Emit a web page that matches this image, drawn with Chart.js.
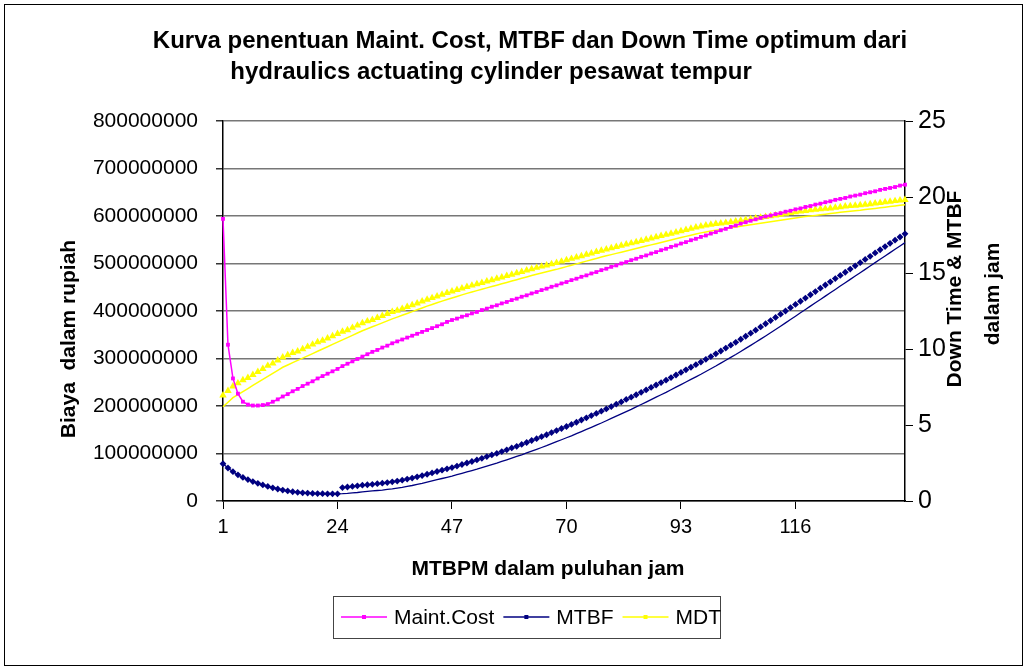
<!DOCTYPE html>
<html>
<head>
<meta charset="utf-8">
<script src="https://cdn.jsdelivr.net/npm/chart.js@4.4.1/dist/chart.umd.min.js"></script>
<style>
  html, body { margin: 0; padding: 0; background: #fff; }
</style>
</head>
<body>
<canvas id="chart" width="1030" height="671"></canvas>
<script>
const FONT = '"Liberation Sans", Arial, sans-serif';

// kategori: MTBPM (puluhan jam) 1..138
const mtbpm = Array.from({ length: 138 }, (_, i) => i + 1);
const xTickLabels = [1, 24, 47, 70, 93, 116];

// Maint. Cost, juta rupiah
const maintCost = [
  594, 329, 258, 226, 209, 203, 201, 201, 202, 204,
  209, 214, 220, 225, 231, 236, 242, 247, 252, 258,
  263, 268, 273, 278, 284, 289, 294, 299, 304, 309,
  314, 318, 323, 327, 332, 336, 340, 344, 348, 352,
  356, 360, 364, 368, 372, 377, 381, 384, 388, 391,
  395, 398, 402, 405, 409, 412, 416, 419, 423, 426,
  430, 433, 437, 440, 444, 447, 451, 454, 458, 461,
  465, 468, 472, 475, 479, 482, 486, 489, 493, 496,
  500, 503, 507, 510, 514, 517, 521, 524, 528, 531,
  535, 538, 542, 545, 549, 552, 556, 559, 563, 566,
  570, 573, 577, 580, 584, 587, 590, 593, 596, 599,
  601, 604, 606, 609, 611, 614, 616, 619, 621, 624,
  626, 629, 631, 634, 636, 638, 641, 643, 645, 648,
  650, 652, 655, 657, 659, 661, 664, 666
];

// MTBF (jam) - titik penanda
const mtbfMarkers = [
  2.45, 2.17, 1.93, 1.72, 1.55, 1.41, 1.28, 1.16, 1.06, 0.96,
  0.87, 0.79, 0.72, 0.66, 0.61, 0.57, 0.54, 0.52, 0.5, 0.49,
  0.48, 0.47, 0.47, 0.47, 0.88, 0.92, 0.96, 1.0, 1.04, 1.07,
  1.1, 1.14, 1.17, 1.21, 1.26, 1.31, 1.37, 1.44, 1.51, 1.59,
  1.67, 1.76, 1.85, 1.94, 2.03, 2.12, 2.2, 2.3, 2.4, 2.5,
  2.6, 2.7, 2.81, 2.92, 3.03, 3.13, 3.25, 3.37, 3.49, 3.6,
  3.72, 3.85, 3.98, 4.1, 4.23, 4.36, 4.5, 4.63, 4.77, 4.9,
  5.04, 5.18, 5.33, 5.47, 5.62, 5.76, 5.91, 6.06, 6.21, 6.37,
  6.52, 6.68, 6.83, 6.99, 7.15, 7.31, 7.47, 7.63, 7.79, 7.95,
  8.12, 8.29, 8.46, 8.63, 8.8, 8.97, 9.14, 9.32, 9.5, 9.68,
  9.87, 10.06, 10.25, 10.44, 10.64, 10.84, 11.04, 11.24, 11.45, 11.66,
  11.87, 12.08, 12.29, 12.5, 12.72, 12.93, 13.14, 13.35, 13.57, 13.78,
  14.0, 14.21, 14.42, 14.63, 14.84, 15.05, 15.26, 15.47, 15.68, 15.89,
  16.1, 16.32, 16.53, 16.74, 16.95, 17.16, 17.37, 17.58
];

// MTBF (jam) - garis
const mtbfLine = [
  2.45, 2.17, 1.93, 1.72, 1.55, 1.41, 1.28, 1.16, 1.06, 0.96,
  0.87, 0.79, 0.72, 0.66, 0.61, 0.57, 0.54, 0.52, 0.5, 0.49,
  0.48, 0.47, 0.47, 0.47, 0.48, 0.5, 0.53, 0.56, 0.6, 0.63,
  0.66, 0.69, 0.72, 0.76, 0.8, 0.85, 0.9, 0.96, 1.02, 1.09,
  1.16, 1.24, 1.32, 1.4, 1.48, 1.56, 1.64, 1.73, 1.82, 1.91,
  2.0, 2.09, 2.19, 2.29, 2.39, 2.49, 2.6, 2.71, 2.82, 2.93,
  3.04, 3.16, 3.28, 3.4, 3.52, 3.64, 3.77, 3.9, 4.03, 4.16,
  4.29, 4.43, 4.57, 4.71, 4.85, 4.99, 5.13, 5.28, 5.43, 5.58,
  5.73, 5.88, 6.03, 6.19, 6.35, 6.51, 6.67, 6.83, 6.99, 7.15,
  7.32, 7.49, 7.66, 7.83, 8.0, 8.17, 8.34, 8.52, 8.7, 8.88,
  9.07, 9.26, 9.45, 9.64, 9.84, 10.04, 10.24, 10.44, 10.65, 10.86,
  11.07, 11.28, 11.5, 11.72, 11.94, 12.16, 12.38, 12.6, 12.82, 13.04,
  13.26, 13.48, 13.7, 13.92, 14.14, 14.36, 14.58, 14.8, 15.02, 15.24,
  15.46, 15.68, 15.9, 16.12, 16.34, 16.56, 16.78, 17.0
];

// MDT (jam) - titik penanda
const mdtMarkers = [
  6.95, 7.25, 7.55, 7.75, 7.95, 8.1, 8.3, 8.5, 8.7, 8.9,
  9.05, 9.25, 9.45, 9.6, 9.75, 9.85, 10.0, 10.15, 10.3, 10.45,
  10.55, 10.7, 10.85, 11.0, 11.15, 11.25, 11.4, 11.55, 11.7, 11.83,
  11.92, 12.05, 12.18, 12.31, 12.44, 12.53, 12.65, 12.77, 12.89, 13.01,
  13.13, 13.25, 13.36, 13.47, 13.58, 13.69, 13.79, 13.89, 13.99, 14.09,
  14.18, 14.27, 14.36, 14.45, 14.54, 14.63, 14.72, 14.81, 14.9, 14.99,
  15.08, 15.17, 15.26, 15.35, 15.43, 15.51, 15.59, 15.67, 15.76, 15.85,
  15.94, 16.03, 16.12, 16.21, 16.3, 16.39, 16.48, 16.56, 16.64, 16.72,
  16.8, 16.88, 16.96, 17.04, 17.12, 17.2, 17.28, 17.36, 17.44, 17.52,
  17.6, 17.68, 17.76, 17.84, 17.92, 18.0, 18.07, 18.13, 18.19, 18.23,
  18.27, 18.31, 18.35, 18.4, 18.45, 18.5, 18.55, 18.6, 18.65, 18.7,
  18.75, 18.8, 18.85, 18.9, 18.95, 19.0, 19.05, 19.09, 19.13, 19.17,
  19.2, 19.23, 19.26, 19.3, 19.34, 19.38, 19.41, 19.44, 19.47, 19.5,
  19.54, 19.58, 19.62, 19.66, 19.7, 19.74, 19.78, 19.82
];

// MDT (jam) - garis
const mdtLine = [
  6.2, 6.5, 6.8, 7.0, 7.2, 7.4, 7.6, 7.8, 8.0, 8.2,
  8.4, 8.6, 8.8, 8.95, 9.1, 9.25, 9.4, 9.55, 9.7, 9.85,
  10.0, 10.15, 10.3, 10.45, 10.6, 10.75, 10.9, 11.05, 11.2, 11.33,
  11.46, 11.59, 11.72, 11.85, 11.98, 12.1, 12.22, 12.34, 12.46, 12.58,
  12.7, 12.82, 12.93, 13.04, 13.15, 13.26, 13.36, 13.46, 13.56, 13.66,
  13.75, 13.84, 13.93, 14.02, 14.11, 14.2, 14.29, 14.38, 14.47, 14.56,
  14.65, 14.74, 14.83, 14.92, 15.0, 15.08, 15.16, 15.24, 15.33, 15.42,
  15.51, 15.6, 15.69, 15.78, 15.87, 15.96, 16.05, 16.13, 16.21, 16.29,
  16.37, 16.45, 16.53, 16.61, 16.69, 16.77, 16.85, 16.93, 17.01, 17.09,
  17.17, 17.25, 17.33, 17.41, 17.49, 17.57, 17.64, 17.7, 17.76, 17.82,
  17.87, 17.92, 17.97, 18.02, 18.07, 18.12, 18.17, 18.22, 18.27, 18.32,
  18.37, 18.42, 18.47, 18.52, 18.57, 18.62, 18.67, 18.71, 18.75, 18.79,
  18.83, 18.87, 18.91, 18.95, 18.99, 19.03, 19.07, 19.1, 19.13, 19.17,
  19.21, 19.25, 19.29, 19.33, 19.37, 19.41, 19.45, 19.49
];

const titleLines = [
  "Kurva penentuan Maint. Cost, MTBF dan Down Time optimum dari",
  "hydraulics actuating cylinder pesawat tempur"
];

// judul sumbu + legenda + bingkai digambar sendiri
const decor = {
  id: "decor",
  afterDraw(chart) {
    const ctx = chart.ctx;
    ctx.save();
    ctx.strokeStyle = "#000";
    ctx.lineWidth = 1;
    ctx.strokeRect(4.5, 4.5, 1018, 661);

    ctx.fillStyle = "#000";
    ctx.textAlign = "center";
    ctx.textBaseline = "middle";
    ctx.font = "bold 24px " + FONT;
    ctx.fillText(titleLines[0], 530, 41);
    ctx.fillText(titleLines[1], 491, 72);

    ctx.font = "bold 21px " + FONT;
    ctx.fillText("MTBPM dalam puluhan jam", 548, 569);

    ctx.save();
    ctx.translate(69, 339);
    ctx.rotate(-Math.PI / 2);
    ctx.fillText("Biaya  dalam rupiah", 0, 0);
    ctx.restore();

    ctx.save();
    ctx.translate(955, 289);
    ctx.rotate(-Math.PI / 2);
    ctx.fillText("Down Time & MTBF", 0, 0);
    ctx.restore();

    ctx.save();
    ctx.translate(993, 294);
    ctx.rotate(-Math.PI / 2);
    ctx.fillText("dalam jam", 0, 0);
    ctx.restore();

    // legenda
    ctx.strokeStyle = "#444";
    ctx.strokeRect(333.5, 596.5, 387, 42);
    ctx.font = "21px " + FONT;
    ctx.textAlign = "left";
    let x = 341;
    const y = 617;
    chart.data.datasets.filter(d => d.inLegend).forEach(d => {
      ctx.strokeStyle = d.borderColor;
      ctx.lineWidth = 1.5;
      ctx.beginPath();
      ctx.moveTo(x, y);
      ctx.lineTo(x + 46, y);
      ctx.stroke();
      ctx.fillStyle = d.borderColor;
      ctx.fillRect(x + 21, y - 2, 4, 4);
      ctx.fillStyle = "#000";
      ctx.fillText(d.label, x + 53, y + 1);
      x += 53 + ctx.measureText(d.label).width + 9;
    });
    ctx.restore();
  }
};

const isTickShown = idx => xTickLabels.includes(mtbpm[idx]);

new Chart(document.getElementById("chart"), {
  type: "line",
  data: {
    labels: mtbpm,
    datasets: [
      {
        label: "Maint.Cost",
        inLegend: true,
        data: maintCost.map(v => v * 1000000),
        yAxisID: "y",
        borderColor: "#FF00FF",
        backgroundColor: "#FF00FF",
        borderWidth: 1.5,
        pointStyle: "rect",
        pointRadius: 2.7,
        pointBorderWidth: 0,
        clip: false
      },
      {
        label: "MTBF",
        inLegend: true,
        data: mtbfMarkers,
        yAxisID: "y1",
        showLine: false,
        borderColor: "#000080",
        backgroundColor: "#000080",
        pointStyle: "rectRot",
        pointRadius: 3.4,
        pointBorderWidth: 0,
        clip: false
      },
      {
        label: "MDT",
        inLegend: true,
        data: mdtMarkers,
        yAxisID: "y1",
        showLine: false,
        borderColor: "#FFFF00",
        backgroundColor: "#FFFF00",
        pointStyle: "triangle",
        pointRadius: 4.3,
        pointBorderWidth: 0,
        clip: false
      },
      {
        label: "MTBF garis",
        data: mtbfLine,
        yAxisID: "y1",
        borderColor: "#000080",
        borderWidth: 1.3,
        pointRadius: 0,
        clip: false
      },
      {
        label: "MDT garis",
        data: mdtLine,
        yAxisID: "y1",
        borderColor: "#FFFF00",
        borderWidth: 1.5,
        pointRadius: 0,
        clip: false
      }
    ]
  },
  options: {
    responsive: false,
    animation: false,
    layout: { padding: { top: 121, left: 0, right: 0, bottom: 130 } },
    plugins: {
      legend: { display: false },
      title: { display: false },
      tooltip: { enabled: false }
    },
    scales: {
      x: {
        type: "category",
        offset: false,
        grid: {
          drawOnChartArea: false,
          tickLength: 8,
          color: c => (isTickShown(c.index) ? "#000" : "rgba(0,0,0,0)"),
          tickColor: c => (isTickShown(c.index) ? "#000" : "rgba(0,0,0,0)")
        },
        border: { color: "#000", width: 1.5 },
        ticks: {
          autoSkip: false,
          maxRotation: 0,
          padding: 6,
          color: "#000",
          font: { family: FONT, size: 20 },
          callback: (v, i) => (isTickShown(i) ? String(mtbpm[i]) : "")
        },
        afterFit: s => { s.height = 40; }
      },
      y: {
        position: "left",
        min: 0,
        max: 800000000,
        ticks: {
          stepSize: 100000000,
          padding: 18,
          color: "#000",
          font: { family: FONT, size: 21 },
          callback: v => String(v)
        },
        grid: { color: "#777", lineWidth: 1.5, tickLength: 7, tickColor: "#333" },
        border: { color: "#000", width: 1.5 },
        afterFit: s => { s.width = 223; }
      },
      y1: {
        position: "right",
        min: 0,
        max: 25,
        ticks: {
          stepSize: 5,
          padding: 5,
          color: "#000",
          font: { family: FONT, size: 25 }
        },
        grid: { drawOnChartArea: false, tickLength: 8, tickColor: "#000" },
        border: { color: "#000", width: 1.5 },
        afterFit: s => { s.width = 125; }
      }
    }
  },
  plugins: [decor]
});
</script>
</body>
</html>
